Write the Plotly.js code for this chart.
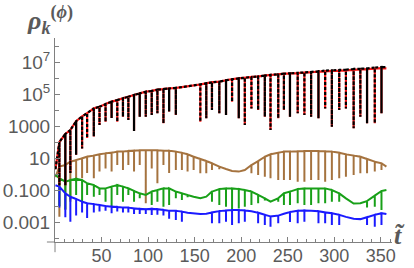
<!DOCTYPE html>
<html>
<head>
<meta charset="utf-8">
<script src="https://cdn.plot.ly/plotly-3.0.1.min.js"></script>
<style>html,body{margin:0;padding:0;background:#fff;}#chart{width:414px;height:268px;}</style>
</head>
<body>
<div id="chart"></div>
<script>
// Kick times (t̃) at which the curves show their sharp downward spikes; first/last entries are curve ends
const tGrid = [0.5, 4.7, 11.1, 16.5, 22.7, 29.1, 34.5, 41.7, 47.8, 54.3, 60.8, 66.9, 73.0, 78.8, 84.9, 91.0, 97.5, 103.9, 110.0, 116.5, 122.6, 129.8, 136.3, 142.4, 148.9, 156.1, 162.5, 168.6, 176.5, 183.7, 190.2, 197.4, 203.9, 211.0, 218.2, 225.4, 231.5, 239.8, 245.9, 252.4, 260.7, 267.9, 275.1, 283.0, 290.2, 297.4, 305.3, 312.5, 320.8, 328.0, 335.2, 343.5, 350.7, 356.0];

// log10 of rho: envelope value (Hi) and spike bottom (Lo, null = no spike)
const blackHi = [0.3, 2.0, 2.5, 2.75, 3.3, 3.6, 3.8, 4.1, 4.2, 4.37, 4.52, 4.62, 4.73, 4.83, 4.94, 5.04, 5.14, 5.19, 5.27, 5.31, 5.35, 5.38, 5.43, 5.48, 5.54, 5.6, 5.67, 5.73, 5.77, 5.86, 5.92, 5.98, 6.02, 6.06, 6.1, 6.15, 6.19, 6.23, 6.27, 6.29, 6.32, 6.35, 6.38, 6.42, 6.46, 6.48, 6.5, 6.52, 6.56, 6.58, 6.6, 6.65, 6.69, 6.68];
const blackLo = [null, -0.7, -0.7, 0.06, 1.2, 1.6, 2.25, 2.35, 3.06, 3.27, 3.5, 3.27, 3.58, 3.37, 2.69, 3.58, 3.58, 3.69, 3.79, 3.17, 3.9, 3.69, null, null, null, 3.27, 3.48, 4.0, 3.8, 3.69, 4.52, 3.48, 3.06, 4.1, 4.0, 3.58, 2.75, 3.48, 4.0, 3.58, 3.79, 3.69, 3.58, 3.48, 4.1, 2.96, 4.0, 4.1, 2.86, 3.58, 3.17, 3.17, 3.79, null];

const redHi = [0.3, 2.0, 2.5, 2.75, 3.3, 3.6, 3.8, 4.1, 4.2, 4.37, 4.52, 4.62, 4.73, 4.83, 4.94, 5.04, 5.14, 5.19, 5.27, 5.31, 5.35, 5.38, 5.43, 5.48, 5.54, 5.6, 5.67, 5.73, 5.77, 5.86, 5.92, 5.98, 6.02, 6.06, 6.1, 6.15, 6.19, 6.23, 6.27, 6.29, 6.31, 6.33, 6.36, 6.39, 6.42, 6.44, 6.46, 6.48, 6.51, 6.53, 6.55, 6.59, 6.62, 6.6];
const redLo = blackLo.slice();

const brownHi = [-0.2, 0.46, 0.56, 0.77, 0.875, 0.98, 1.08, 1.15, 1.23, 1.29, 1.33, 1.4, 1.4, 1.44, 1.46, 1.48, 1.48, 1.48, 1.48, 1.46, 1.46, 1.4, 1.33, 1.23, 1.08, 0.94, 0.81, 0.67, 0.46, 0.31, 0.19, 0.15, 0.25, 0.56, 0.81, 1.08, 1.23, 1.33, 1.4, 1.4, 1.42, 1.44, 1.44, 1.44, 1.42, 1.4, 1.33, 1.23, 1.15, 1.08, 0.94, 0.77, 0.67, 0.46];
const brownLo = [null, -2.67, -2.25, -1.73, -0.48, -0.27, 0.06, -0.27, 0.15, 0.35, 0.15, 0.56, 0.25, 0.56, 0.15, 0.56, -1.83, 0.35, -0.58, 0.56, 0.06, 0.25, 0.25, 0.15, 0.25, 0.04, 0.04, 0.25, 0.3, null, null, null, null, 0.04, -0.06, -0.17, -0.27, -0.38, -0.38, -0.38, -0.48, -0.48, -0.38, -0.38, -0.48, -0.38, -0.27, -0.17, -0.06, 0.04, 0.04, 0.15, 0.25, null];

const greenHi = [-0.06, -0.27, -0.48, -0.38, -0.3, -0.38, -0.58, -0.69, -0.9, -0.9, -0.79, -0.69, -0.79, -0.9, -1.06, -1.21, -1.31, -1.1, -1.0, -0.9, -0.9, -1.1, -1.21, -1.31, -1.42, -1.52, -1.42, -1.1, -0.94, -0.9, -0.9, -0.94, -1.0, -1.1, -1.31, -1.52, -1.73, -1.52, -1.21, -1.1, -0.94, -0.9, -0.9, -0.9, -0.9, -1.0, -1.21, -1.52, -1.85, -1.83, -1.69, -1.35, -1.06, -1.0];
const greenLo = [null, -2.0, -2.2, -1.6, -1.31, -1.73, -1.31, -1.42, -1.31, -1.73, -2.04, -1.31, -1.73, -1.31, -1.73, -1.52, null, -1.94, -1.73, -2.04, -1.94, -1.52, -1.63, -1.45, null, null, null, -1.73, -1.94, -2.04, -2.25, -2.15, -2.04, -1.94, -1.83, -1.65, null, -1.73, -1.94, -1.94, -1.83, -1.94, -1.94, -1.83, -1.83, -1.73, -1.73, null, null, null, -2.1, -2.04, -2.25, null];

const blueHi = [-0.7, -0.79, -1.21, -1.42, -1.56, -1.73, -1.83, -1.88, -1.94, -2.0, -2.04, -2.06, -2.1, -2.1, -2.15, -2.18, -2.2, -2.18, -2.2, -2.25, -2.3, -2.3, -2.35, -2.42, -2.48, -2.5, -2.48, -2.4, -2.32, -2.28, -2.25, -2.25, -2.28, -2.33, -2.42, -2.55, -2.65, -2.6, -2.48, -2.38, -2.3, -2.28, -2.3, -2.33, -2.4, -2.45, -2.55, -2.68, -2.8, -2.82, -2.7, -2.55, -2.45, -2.5];
const blueLo = [null, -2.1, -2.7, -2.98, -2.6, -2.4, -2.75, -2.4, -2.35, -2.3, -2.46, -2.35, -2.4, -2.4, -2.5, -2.5, -2.5, -2.56, -2.55, -2.6, -2.8, -2.88, -2.98, null, null, null, null, -3.08, -3.08, -2.98, -3.19, -3.08, -2.98, null, -3.08, -3.19, -3.29, -3.08, null, -3.0, -3.08, -2.98, null, -3.08, -3.08, -3.19, -3.19, null, null, null, -3.19, -3.29, -3.19, null];

const xTickVals = [50, 100, 150, 200, 250, 300, 350];
const yLabelExp = [-3, -1, 1, 3, 5, 7];
const yLabelText = ["0.001", "0.100", "10", "1000", "10<sup>5</sup>", "10<sup>7</sup>"];
const yMinorExp = [-4, -2, 0, 2, 4, 6, 8];

function build(t, hi, lo) {
  const xs = [], ys = [];
  for (let i = 0; i < t.length; i++) {
    xs.push(t[i]); ys.push(Math.pow(10, hi[i]));
    if (lo[i] !== null) {
      xs.push(t[i], t[i]); ys.push(Math.pow(10, lo[i]), Math.pow(10, hi[i]));
    }
  }
  return {x: xs, y: ys};
}

function trace(t, hi, lo, color, width, dash) {
  const d = build(t, hi, lo);
  return {x: d.x, y: d.y, type: 'scatter', mode: 'lines', hoverinfo: 'skip',
          line: {color: color, width: width, dash: dash || 'solid', shape: 'linear'}};
}

const data = [
  trace(tGrid, brownHi, brownLo, '#a5733f', 2),
  trace(tGrid, greenHi, greenLo, '#18a018', 2),
  trace(tGrid, blueHi, blueLo, '#1a1aff', 2),
  trace(tGrid, redHi, redLo, '#ff1a1a', 2.2),
  trace(tGrid, blackHi, blackLo, '#000000', 2.2, '3px,2px')
];

const axisCol = '#808080';
const labCol = '#5a5a5a';
const minorVals = [];
for (let v = 10; v <= 360; v += 10) if (v % 50 !== 0) minorVals.push(v);

const layout = {
  width: 414, height: 268,
  margin: {l: 55, r: 22, t: 38, b: 26, pad: 0},
  paper_bgcolor: '#fff', plot_bgcolor: '#fff',
  showlegend: false,
  font: {family: 'Liberation Sans, Arial, sans-serif', color: labCol},
  xaxis: {
    range: [0, 362], showgrid: false, zeroline: false,
    showline: true, linecolor: axisCol, linewidth: 1,
    ticks: 'inside', ticklen: 5, tickwidth: 1, tickcolor: axisCol,
    tickmode: 'array', tickvals: xTickVals, ticktext: xTickVals.map(String),
    tickfont: {size: 18, color: labCol}, ticklabelstandoff: -3,
    minor: {tickmode: 'array', tickvals: minorVals, ticks: 'inside', ticklen: 3, tickcolor: axisCol, showgrid: false},
    automargin: false
  },
  yaxis: {
    type: 'log', range: [-4.25, 8.5], showgrid: false, zeroline: false,
    showline: true, linecolor: axisCol, linewidth: 1,
    ticks: 'inside', ticklen: 5, tickwidth: 1, tickcolor: axisCol,
    tickmode: 'array', tickvals: yLabelExp.map(e => Math.pow(10, e)), ticktext: yLabelText,
    tickfont: {size: 19, color: labCol},
    minor: {tickmode: 'array', tickvals: yMinorExp.map(e => Math.pow(10, e)), ticks: 'inside', ticklen: 4, tickcolor: axisCol, showgrid: false},
    automargin: false
  },
  shapes: [
    {type: 'line', xref: 'paper', yref: 'paper', x0: -0.024, x1: 0, y0: 0, y1: 0, line: {color: axisCol, width: 1}},
    {type: 'line', xref: 'paper', yref: 'paper', x0: 0, x1: 0, y0: -0.05, y1: 0, line: {color: axisCol, width: 1}}
  ],
  annotations: [
    {xref: 'paper', yref: 'paper', x: -0.09, y: 1.09, xanchor: 'left', yanchor: 'middle', showarrow: false,
     text: '<b><i>ρ</i></b><sub><b><i>k</i></b></sub><sup><b>(<i>ϕ</i>)</b></sup>',
     font: {family: 'Liberation Serif, DejaVu Serif, serif', size: 26, color: labCol}},
    {xref: 'paper', yref: 'paper', x: 1.0, y: 0.03, xanchor: 'left', yanchor: 'middle', showarrow: false,
     text: '<b><i>t̃</i></b>',
     font: {family: 'Liberation Serif, DejaVu Serif, serif', size: 26, color: labCol}}
  ]
};

Plotly.newPlot('chart', data, layout, {staticPlot: true, displayModeBar: false});
</script>
</body>
</html>
